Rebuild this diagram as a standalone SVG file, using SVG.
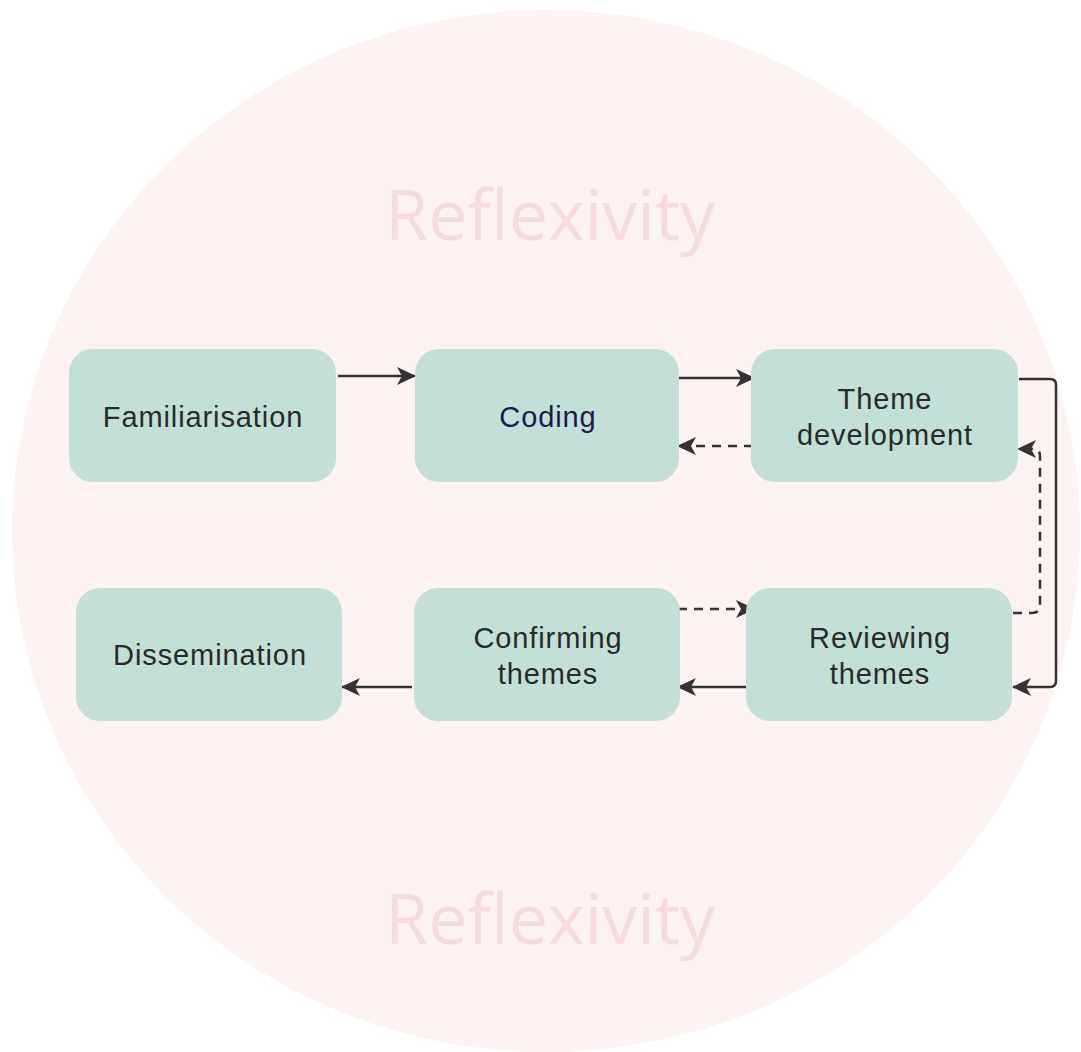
<svg xmlns="http://www.w3.org/2000/svg" width="1081" height="1052" viewBox="0 0 1081 1052">
<style>
.node rect{fill:#c3dfd7;}
.lbl{font-family:"Liberation Sans",Arial,sans-serif;font-size:29px;letter-spacing:0.9px;fill:#2a2a2a;text-anchor:middle;}
.bg{font-family:"Open Sans","Noto Sans",sans-serif;font-size:70px;fill:#f7dcdc;text-anchor:middle;}
.c{fill:none;stroke:#333;stroke-width:2.5;}
.d{stroke-dasharray:9 7;}
</style>
<defs>
<marker id="ah" viewBox="0 0 19 18" refX="18" refY="9" markerWidth="19" markerHeight="18" markerUnits="userSpaceOnUse" orient="auto">
<path d="M0,0 L19,9 L0,18 L5,9 Z" fill="#333"/>
</marker>
</defs>
<rect width="1081" height="1052" fill="#ffffff"/>
<ellipse cx="546" cy="531" rx="534" ry="521" fill="#fcf3f2"/>
<text class="bg" x="550" y="240">Reflexivity</text>
<text class="bg" x="550" y="944">Reflexivity</text>
<g id="connectors">
<path class="c" d="M338,376 H415" marker-end="url(#ah)"/>
<path class="c" d="M679,378 H754" marker-end="url(#ah)"/>
<path class="c d" d="M753,446 H678" marker-end="url(#ah)"/>
<path class="c" d="M1019,379 H1050 Q1056,379 1056,385 V681 Q1056,687 1050,687 H1013" marker-end="url(#ah)"/>
<path class="c d" d="M1013,613 H1032 Q1040,613 1040,605 V456 Q1040,449 1034,449 H1018" marker-end="url(#ah)"/>
<path class="c d" d="M678,609 H754" marker-end="url(#ah)"/>
<path class="c" d="M746,687 H678" marker-end="url(#ah)"/>
<path class="c" d="M412,687 H342" marker-end="url(#ah)"/>
</g>
<g id="familiarisation" class="node"><rect x="69" y="349" width="267" height="133" rx="24"/><text class="lbl" x="203" y="427">Familiarisation</text></g>
<g id="coding" class="node"><rect x="415" y="349" width="264" height="133" rx="24"/><text class="lbl" x="548" y="427" style="fill:#1c1c4a">Coding</text></g>
<g id="theme-development" class="node"><rect x="751" y="349" width="267" height="133" rx="24"/><text class="lbl" x="885" y="409">Theme</text><text class="lbl" x="885" y="445">development</text></g>
<g id="dissemination" class="node"><rect x="76" y="588" width="266" height="133" rx="24"/><text class="lbl" x="210" y="665">Dissemination</text></g>
<g id="confirming-themes" class="node"><rect x="414" y="588" width="266" height="133" rx="24"/><text class="lbl" x="548" y="648">Confirming</text><text class="lbl" x="548" y="684">themes</text></g>
<g id="reviewing-themes" class="node"><rect x="746" y="588" width="266" height="133" rx="24"/><text class="lbl" x="880" y="648">Reviewing</text><text class="lbl" x="880" y="684">themes</text></g>
</svg>
